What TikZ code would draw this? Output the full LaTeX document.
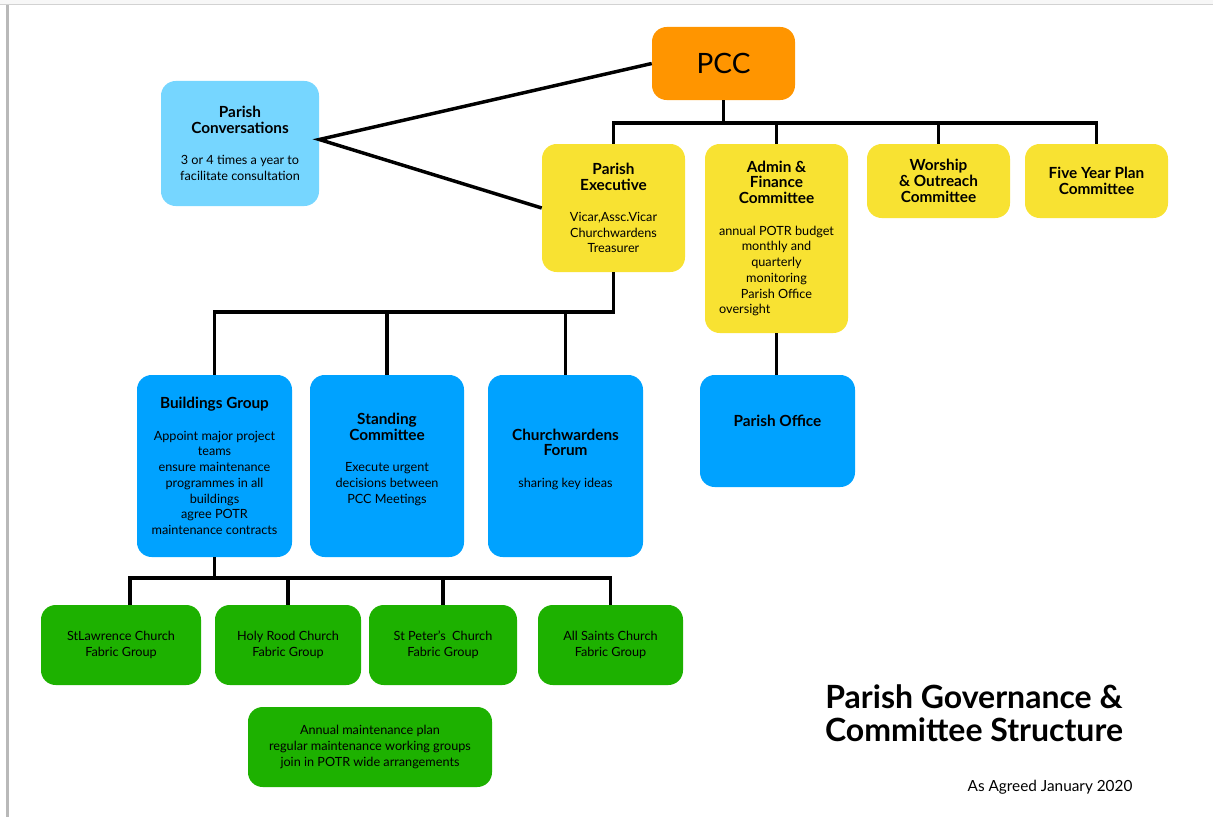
\documentclass[tikz,border=0pt]{standalone}
\usepackage{fontspec}
\setmainfont{Lato}
\usepackage{tikz}
\usetikzlibrary{positioning,calc}
\definecolor{pccorange}{HTML}{FF9500}
\definecolor{convblue}{HTML}{76D6FF}
\definecolor{cttyellow}{HTML}{F8E232}
\definecolor{grpblue}{HTML}{00A2FF}
\definecolor{fabgreen}{HTML}{1DB100}
\tikzstyle{line} = [draw, line width=2.6pt]
\tikzset{
  box/.style={rectangle, rounded corners=11pt, inner sep=0pt, align=center, font=\fontsize{9.5}{11.8}\selectfont},
  boxsize/.style 2 args={minimum width=#1*0.75pt, minimum height=#2*0.75pt},
}
\newcommand{\hd}[1]{{\fontsize{11.5}{11.8}\selectfont\bfseries #1}}

\begin{document}
\begin{tikzpicture}[x=0.75pt,y=-0.75pt]
      \useasboundingbox (0,0) rectangle (1213,817);
      \fill[gray!6] (0,0) rectangle (1213,5);
      \draw[gray!35, line width=0.75pt] (0,5) -- (1213,5);
      \fill[gray!55] (6,5) rectangle (9,817);

      \node[box, boxsize={143}{73}, fill=pccorange, font=\fontsize{21}{25}\selectfont] (pcc) at (723.5,63.5) {PCC};
      \node[box, boxsize={158}{125}, fill=convblue] (conv) at (240,143.5) {\hd{Parish}\\\hd{Conversations}\\[11.8pt]3 or 4 times a year to\\facilitate consultation};

      \node[box, boxsize={143}{128}, fill=cttyellow] (exec) at (613.5,208) {\hd{Parish}\\\hd{Executive}\\[11.8pt]Vicar,Assc.Vicar\\Churchwardens\\Treasurer};
      \node[box, boxsize={143}{189}, fill=cttyellow] (admin) at (776.5,238.5) {\hd{Admin \&}\\\hd{Finance}\\\hd{Committee}\\[11.8pt]annual POTR budget\\monthly and\\quarterly\\monitoring\\Parish Office\\\makebox[88pt][l]{\hspace{1pt}oversight}};
      \node[box, boxsize={143}{74}, fill=cttyellow] (worship) at (938.5,181) {\hd{Worship}\\\hd{\& Outreach}\\\hd{Committee}};
      \node[box, boxsize={143}{74}, fill=cttyellow] (fiveyr) at (1096.5,181) {\hd{Five Year Plan}\\\hd{Committee}};

      \node[box, boxsize={155}{182}, fill=grpblue] (build) at (214.5,466) {\hd{Buildings Group}\\[11.8pt]Appoint major project\\teams\\ensure maintenance\\programmes in all\\buildings\\agree POTR\\maintenance contracts};
      \node[box, boxsize={154}{182}, fill=grpblue] (standing) at (387,466) {\hd{Standing}\\\hd{Committee}\\[11.8pt]Execute urgent\\decisions between\\PCC Meetings\\\mbox{}};
      \node[box, boxsize={155}{182}, fill=grpblue] (cwforum) at (565.5,466) {\hd{Churchwardens}\\\hd{Forum}\\[11.8pt]sharing key ideas\\\mbox{}};
      \node[box, boxsize={155}{112}, fill=grpblue] (office) at (777.5,431) {\hd{Parish Office}\\[3pt]\mbox{}};

      \node[box, boxsize={160}{80}, fill=fabgreen] (stlaw) at (121,645) {StLawrence Church\\Fabric Group};
      \node[box, boxsize={146}{80}, fill=fabgreen] (holyrood) at (288,645) {Holy Rood Church\\Fabric Group};
      \node[box, boxsize={148}{80}, fill=fabgreen] (stpeter) at (443,645) {St Peter’s\ \ Church\\Fabric Group};
      \node[box, boxsize={145}{80}, fill=fabgreen] (allsaints) at (610.5,645) {All Saints Church\\Fabric Group};
      \node[box, boxsize={244}{80}, fill=fabgreen] (annual) at (370,747) {Annual maintenance plan\\regular maintenance working groups\\join in POTR wide arrangements};

      \node[align=center, font=\bfseries\fontsize{24}{25}\selectfont] (title) at (974,713.5) {Parish Governance \&\\Committee Structure};
      \node[font=\fontsize{11.5}{13}\selectfont] (agreed) at (1050,787) {As Agreed January 2020};

      \coordinate (bar1) at (724,123);
      \coordinate (bar2) at (614,312);
      \coordinate (bar3) at (217,578);

      \path [line] (pcc.south) -- (pcc.south |- bar1);
      \path [line] (exec.north) |- (bar1) -| (fiveyr.north);
      \path [line] (admin.north) -- (admin.north |- bar1);
      \path [line] (worship.north) -- (worship.north |- bar1);

      \path [line] (pcc.west) -- ([yshift=3pt]conv.east) -- (exec.west);

      \path [line] (exec.south) -- (exec.south |- bar2) -| (build.north);
      \path [line] (standing.north) -- (standing.north |- bar2);
      \path [line] (cwforum.north) -- (cwforum.north |- bar2);

      \path [line] (admin.south) -- (admin.south |- office.north);

      \path [line] (build.south) -- (build.south |- bar3);
      \path [line] ([xshift=6.75pt]stlaw.north) |- (bar3) -| (allsaints.north);
      \path [line] (holyrood.north) -- (holyrood.north |- bar3);
      \path [line] (stpeter.north) -- (stpeter.north |- bar3);
    \end{tikzpicture}
\end{document}
